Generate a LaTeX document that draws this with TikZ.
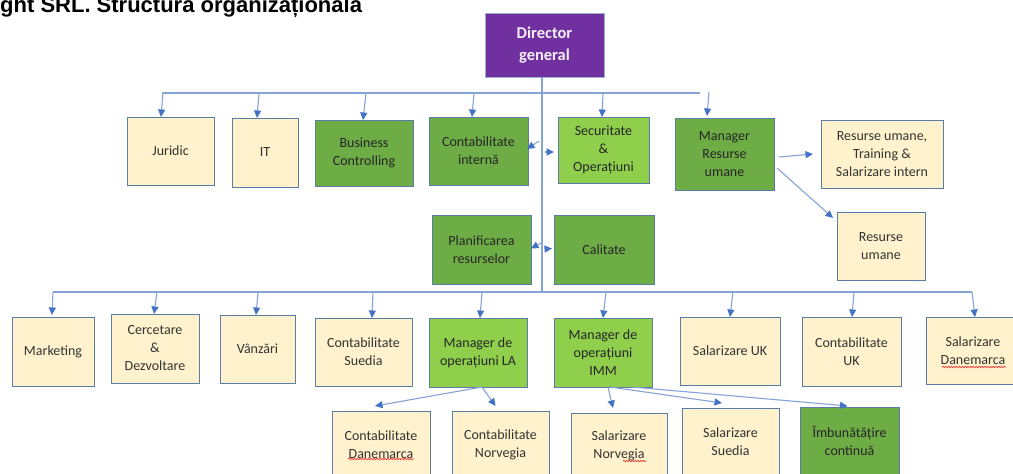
\documentclass[tikz,border=0pt]{standalone}
\usepackage{fontspec}
\setmainfont{Carlito}
\newfontfamily\titlefont{Liberation Sans}
\usetikzlibrary{arrows.meta,decorations.pathmorphing}
\definecolor{cream}{HTML}{FFF2CC}
\definecolor{dgreen}{HTML}{6EAC45}
\definecolor{lgreen}{HTML}{8FCF4C}
\definecolor{purp}{HTML}{7030A0}
\definecolor{boxborder}{HTML}{5A7CA6}
\definecolor{linkblue}{HTML}{86A3D8}
\definecolor{tipblue}{HTML}{4472C4}
\definecolor{txtgray}{HTML}{333333}
\newcommand{\orgbox}[7]{%
  \node[#2, minimum width={(#5-#3)*1pt}, minimum height={(#6-#4)*1pt}] (#1) at ({(#3+#5)/2},{(#4+#6)/2}) {#7};}
\tikzset{
  box/.style={draw=boxborder, line width=1pt, align=center, inner sep=0pt, outer sep=0pt,
    font=\fontsize{14}{18}\selectfont, text=txtgray},
  cbox/.style={box, fill=cream},
  gbox/.style={box, fill=dgreen, text=black!85},
  lgbox/.style={box, fill=lgreen, text=black!85},
  pbox/.style={box, fill=purp, draw=boxborder!60, text=purp!8,
    font=\fontsize{16.5}{22}\selectfont\bfseries},
  link/.style={draw=linkblue, line width=1.1pt},
  arr/.style={draw=linkblue, line width=1.1pt, -{Triangle[length=7.5pt,width=7pt,color=tipblue]}},
  squig/.style={draw=red!80, line width=0.6pt, decorate, decoration={snake, amplitude=0.8pt, segment length=2.8pt}}
}
\begin{document}
\begin{tikzpicture}[x=1pt,y=-1pt]
\useasboundingbox (0,0) rectangle (1013,474);
\clip (0,0) rectangle (1013,474);
\fill[white] (0,0) rectangle (1013,474);

% title
\node[anchor=base west, inner sep=0pt, font=\titlefont\fontsize{22}{24}\selectfont\bfseries] (title) at (0,12.5) {ght SRL. Structura organizațională};

% director
\orgbox{dir}{pbox}{485}{13}{604}{77}{Director\\general}

% top row
\orgbox{jur}{cbox}{127}{117}{214}{185}{Juridic}
\orgbox{it}{cbox}{232}{118}{298}{187}{IT}
\orgbox{bc}{gbox}{315}{120}{413}{186}{Business\\Controlling}
\orgbox{ci}{gbox}{429}{117}{528}{185}{Contabilitate\\internă}
\orgbox{sec}{lgbox}{558}{117}{649}{183}{Securitate\\\&\\Operațiuni}
\orgbox{mrh}{gbox}{675}{118}{774}{190}{Manager\\Resurse\\umane}
\orgbox{rut}{cbox}{821}{120}{943}{188}{Resurse umane,\\Training \&\\Salarizare intern}
\orgbox{ru}{cbox}{837}{212}{925}{280}{Resurse\\umane}

% middle
\orgbox{plan}{gbox}{432}{215}{531}{284}{Planificarea\\resurselor}
\orgbox{cal}{gbox}{554}{215}{654}{284}{Calitate}

% bottom row
\orgbox{mkt}{cbox}{12}{317}{94}{386}{Marketing}
\orgbox{cd}{cbox}{111}{314}{199}{383}{Cercetare\\\&\\Dezvoltare}
\orgbox{vz}{cbox}{220}{315}{295}{383}{Vânzări}
\orgbox{cs}{cbox}{315}{318}{412}{386}{Contabilitate\\Suedia}
\orgbox{mla}{lgbox}{429}{318}{527}{387}{Manager de\\operațiuni LA}
\orgbox{mimm}{lgbox}{554}{318}{652}{387}{Manager de\\operațiuni\\IMM}
\orgbox{suk}{cbox}{680}{317}{780}{385}{Salarizare UK}
\orgbox{cuk}{cbox}{802}{317}{901}{386}{Contabilitate\\UK}
\orgbox{sdk}{cbox}{926}{317}{1020}{384}{Salarizare\\Danemarca}

% last row
\orgbox{cdk}{cbox}{332}{411}{430}{478}{Contabilitate\\Danemarca}
\orgbox{cno}{cbox}{452}{411}{549}{478}{Contabilitate\\Norvegia}
\orgbox{sno}{cbox}{571}{413}{667}{478}{Salarizare\\Norvegia}
\orgbox{ssu}{cbox}{682}{408}{779}{475}{Salarizare\\Suedia}
\orgbox{imb}{gbox}{800}{407}{899}{475}{Îmbunătățire\\continuă}

% coordinates on the bus lines
\coordinate (trunkend) at (542,292);
\coordinate (tl) at (162,93);
\coordinate (tr) at (700,93);
\coordinate (bl) at (53,292);
\coordinate (br) at (972,292);

% trunk and buses
\draw[link] (dir.south -| trunkend) -- (trunkend);
\draw[link] (tl) -- (tr);
\draw[link] (bl) -- (br);

% top row arrows
\coordinate (t1) at (163,93);
\coordinate (t2) at (259,93);
\coordinate (t3) at (366,93);
\coordinate (t4) at (474,93);
\coordinate (t5) at (603,93);
\coordinate (t6) at (709,92);
\draw[arr] (t1) -- ([xshift=-9.5pt]jur.north);
\draw[arr] (t2) -- ([xshift=-8pt]it.north);
\draw[arr] (t3) -- ([xshift=-1pt]bc.north);
\draw[arr] (t4) -- ([xshift=-6.5pt]ci.north);
\draw[arr] (t5) -- ([xshift=-1.5pt]sec.north);
\draw[arr] (t6) -- ([xshift=-17.5pt,yshift=2pt]mrh.north);

% small arrows off the trunk
\coordinate (s1) at (539,141);
\coordinate (s2) at (545,152);
\coordinate (s3) at (541,243);
\coordinate (s4) at (545,249);
\draw[arr] (s1) -- ([shift={(-1,-2)}]ci.east);
\draw[arr] (s2) -- ([shift={(-4,2)}]sec.west);
\draw[arr] (s3) -- ([shift={(0,-1)}]plan.east);
\draw[arr] (s4) -- ([shift={(-2,-1)}]cal.west);

% HR manager arrows
\draw[arr] ([shift={(5,3)}]mrh.east) -- ([shift={(-8,0)}]rut.west);
\draw[arr] ([shift={(3,14)}]mrh.east) -- ([shift={(-4,6)}]ru.north west);

% bottom row arrows
\coordinate (b1) at (53,292);
\coordinate (b2) at (157,292);
\coordinate (b3) at (258,292);
\coordinate (b4) at (373,292);
\coordinate (b5) at (482,292);
\coordinate (b6) at (606,292);
\coordinate (b7) at (733,292);
\coordinate (b8) at (854,292);
\coordinate (b9) at (972,292);
\draw[arr] (b1) -- ([xshift=-1pt,yshift=2pt]mkt.north);
\draw[arr] (b2) -- ([xshift=-1pt]cd.north);
\draw[arr] (b3) -- ([xshift=-1.5pt]vz.north);
\draw[arr] (b4) -- ([xshift=8.5pt]cs.north);
\draw[arr] (b5) -- ([xshift=2pt]mla.north);
\draw[arr] (b6) -- (mimm.north);
\draw[arr] (b7) -- (suk.north);
\draw[arr] (b8) -- ([xshift=0.5pt]cuk.north);
\draw[arr] (b9) -- ([xshift=2pt]sdk.north);

% operations managers
\draw[arr] ([xshift=4pt]mla.south) -- ([shift={(-6,-5)}]cdk.north);
\draw[arr] ([xshift=4pt]mla.south) -- ([shift={(-5,-5)}]cno.north);
\draw[arr] ([xshift=5pt]mimm.south) -- ([shift={(-6,-5)}]sno.north);
\draw[arr] ([xshift=7pt]mimm.south) -- ([shift={(-8.5,-5)}]ssu.north);
\draw[arr] ([xshift=29pt]mimm.south) -- ([shift={(-2,-1)}]imb.north);

% spell-check squiggles
\draw[squig] (348,459) -- (414,459);
\draw[squig] (942,367) -- (1006,367);
\draw[squig] (623,461) -- (646,461);
\end{tikzpicture}
\end{document}
